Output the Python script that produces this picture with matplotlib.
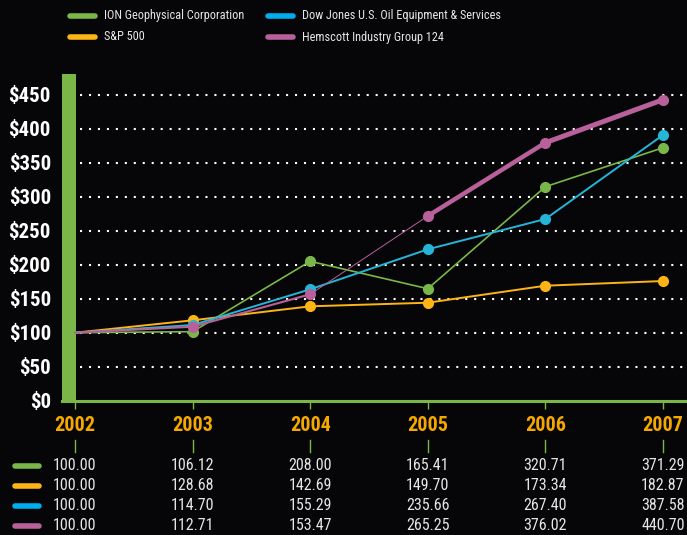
import matplotlib
matplotlib.use("Agg")
import matplotlib.pyplot as plt
from matplotlib import font_manager as fm
from matplotlib.lines import Line2D

# look for a condensed face, the reference uses a narrow DIN-like type
def pick_font(bold):
    wanted = ["Roboto Condensed", "DejaVu Sans Condensed", "Liberation Sans Narrow"]
    fonts = fm.fontManager.ttflist
    for name in wanted:
        for f in fonts:
            is_bold = f.weight in ("bold", 700) or "Bold" in f.fname
            if ("Condensed" in f.fname or "Narrow" in f.fname or f.stretch == "condensed") \
                    and f.name.split()[0] == name.split()[0] and is_bold == bold \
                    and "Oblique" not in f.fname and "Italic" not in f.fname:
                return fm.FontProperties(fname=f.fname)
    return fm.FontProperties(family="Roboto", weight="bold" if bold else "normal")

font_reg = pick_font(False)
font_bold = pick_font(True)

years = [2002, 2003, 2004, 2005, 2006, 2007]
series_names = ["ION Geophysical Corporation", "S&P 500",
                "Dow Jones U.S. Oil Equipment & Services", "Hemscott Industry Group 124"]
colors = ["#7ab648", "#fdb515", "#25b5d8", "#b8609a"]
legend_colors = ["#7ab648", "#fdb515", "#00aeef", "#b8609a"]

# values as plotted
ion_plot = [100, 101.5, 205, 164.7, 314.7, 372]
sp_plot = [100, 118.2, 138.8, 144.1, 169.1, 176]
dj_plot = [100, 111.3, 163.8, 222.6, 267.2, 390.7]
hem_plot = [100, 108.8, 156.5, 271.6, 379.4, 442.6]

# values printed in the table
ion_tab = ["100.00", "106.12", "208.00", "165.41", "320.71", "371.29"]
sp_tab = ["100.00", "128.68", "142.69", "149.70", "173.34", "182.87"]
dj_tab = ["100.00", "114.70", "155.29", "235.66", "267.40", "387.58"]
hem_tab = ["100.00", "112.71", "153.47", "265.25", "376.02", "440.70"]

yticks = [0, 50, 100, 150, 200, 250, 300, 350, 400, 450]

bg = "#060608"
green = "#7ab648"
W, H = 687, 535

fig = plt.figure(figsize=(W / 100, H / 100), dpi=100, facecolor=bg)
ax = fig.add_axes([62 / W, (H - 400.7) / H, 1 - 62 / W, 326.7 / H])
ax.set_facecolor(bg)

px_year = 117.6
ax.set_xlim(2002 - 13 / px_year, 2007 + 24 / px_year)
ax.set_ylim(0, 326.7 / 0.68)

for s in ax.spines.values():
    s.set_visible(False)

# left green bar and bottom axis line
ax.axvspan(2002 - 13 / px_year, 2002 + 1 / px_year, ymin=0, ymax=1, color=green, lw=0)
ax.axhline(0, color=green, lw=2.2, clip_on=False)

# dotted grid
for v in yticks[1:]:
    ax.plot([2002 + 5 / px_year, 2007 + 24 / px_year], [v, v], color="white",
            lw=1.5, ls=(0, (1, 3.3)), zorder=1)

ax.set_yticks(yticks)
ax.set_yticklabels(["$%d" % v for v in yticks], color="white", fontproperties=font_bold,
                   fontsize=15)
ax.tick_params(axis="y", length=0, pad=8)
ax.set_xticks(years)
ax.set_xticklabels([])
ax.tick_params(axis="x", direction="out", length=6, width=1, color=green)

xt = ax.get_xaxis_transform()
for yr in years:
    ax.text(yr, -0.077, str(yr), transform=xt, ha="center", va="center",
            color="#f5a800", fontproperties=font_bold, fontsize=14.5, clip_on=False)
    ax.plot([yr, yr], [-0.121, -0.157], transform=xt, color=green, lw=1, clip_on=False)

# lines
ax.plot(years, ion_plot, color=colors[0], lw=1.2, zorder=3)
ax.plot(years[1:], ion_plot[1:], 'o', color=colors[0], ms=7, zorder=4)
ax.plot(years, sp_plot, color=colors[1], lw=1.4, zorder=3)
ax.plot(years[1:], sp_plot[1:], 'o', color=colors[1], ms=7, zorder=4)
ax.plot(years, dj_plot, color=colors[2], lw=1.4, zorder=3)
ax.plot(years[1:], dj_plot[1:], 'o', color=colors[2], ms=7, zorder=4)
hem_widths = [1.5, 1.5, 0.7, 3.2, 3.6]
for i, w in enumerate(hem_widths):
    ax.plot(years[i:i + 2], hem_plot[i:i + 2], color=colors[3], lw=w,
            solid_capstyle="round", zorder=5)
ax.plot(years[1:], hem_plot[1:], 'o', color=colors[3], ms=7, zorder=6)

# table
tables = [ion_tab, sp_tab, dj_tab, hem_tab]
row_px = [465.5, 485.5, 505.5, 525.5]
for r, (tab, p) in enumerate(zip(tables, row_px)):
    yy = (400.7 - p) / 326.7
    fig.add_artist(Line2D([15 / W, 39 / W], [(H - p) / H] * 2, color=legend_colors[r],
                          lw=4, solid_capstyle="round"))
    for yr, t in zip(years, tab):
        ax.text(yr, yy, t, transform=xt, ha="center", va="center", color="#e6e6e6",
                fontproperties=font_reg, fontsize=11.5, clip_on=False)

# legend
leg_pos = [(68, 16), (68, 37), (266, 16), (266, 37)]
for (lx, ly), name, c in zip(leg_pos, series_names, legend_colors):
    fig.add_artist(Line2D([(lx + 2) / W, (lx + 27) / W], [(H - ly) / H] * 2, color=c,
                          lw=4, solid_capstyle="round"))
    fig.text((lx + 36) / W, (H - ly) / H, name, color="#e6e6e6", fontproperties=font_reg,
             fontsize=8.8, ha="left", va="center")

fig.savefig("out.png", dpi=100, facecolor=bg)
